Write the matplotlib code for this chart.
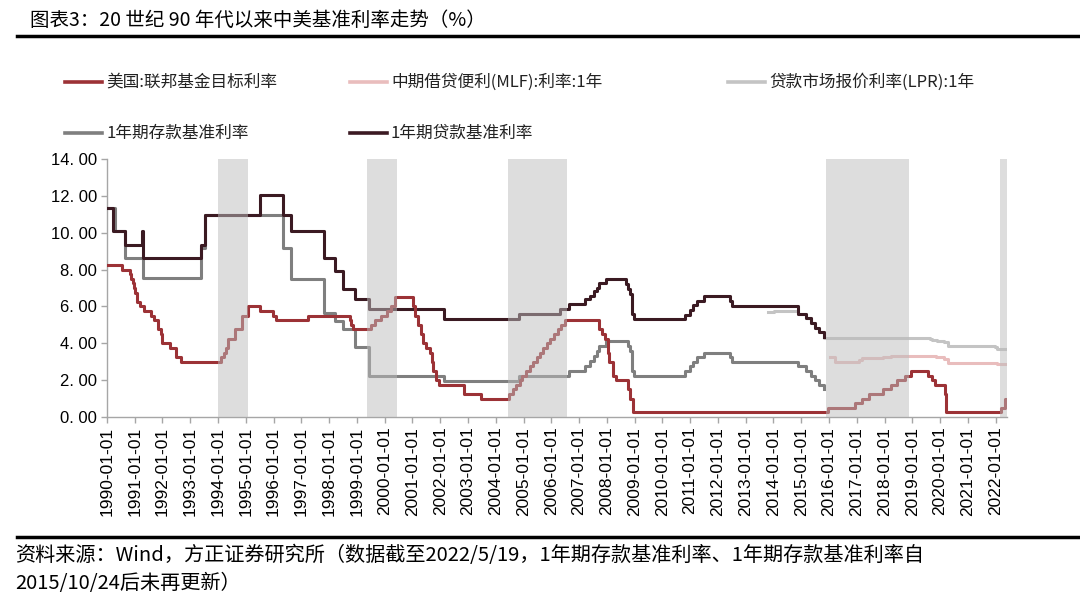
import pandas as pd
import matplotlib
matplotlib.use("Agg")
import matplotlib.pyplot as plt
import matplotlib.dates as mdates
from matplotlib.lines import Line2D

plt.rcParams['font.family'] = ['Noto Sans CJK SC', 'DejaVu Sans']

# ---- data (step changes: date the rate took effect, new value) ----
fed_dates = ['1990-01-01', '1990-07-13', '1990-10-29', '1990-11-13', '1990-12-07', '1990-12-18',
             '1991-01-08', '1991-02-01', '1991-03-08', '1991-04-30', '1991-08-06', '1991-09-13',
             '1991-10-31', '1991-11-06', '1991-12-06', '1991-12-20', '1992-04-09', '1992-07-02',
             '1992-09-04', '1994-02-04', '1994-03-22', '1994-04-18', '1994-05-17', '1994-08-16',
             '1994-11-15', '1995-02-01', '1995-07-06', '1995-12-19', '1996-01-31', '1997-03-25',
             '1998-09-29', '1998-10-15', '1998-11-17', '1999-06-30', '1999-08-24', '1999-11-16',
             '2000-02-02', '2000-03-21', '2000-05-16', '2001-01-03', '2001-01-31', '2001-03-20',
             '2001-04-18', '2001-05-15', '2001-06-27', '2001-08-21', '2001-09-17', '2001-10-02',
             '2001-11-06', '2001-12-11', '2002-11-06', '2003-06-25', '2004-06-30', '2004-08-10',
             '2004-09-21', '2004-11-10', '2004-12-14', '2005-02-02', '2005-03-22', '2005-05-03',
             '2005-06-30', '2005-08-09', '2005-09-20', '2005-11-01', '2005-12-13', '2006-01-31',
             '2006-03-28', '2006-05-10', '2006-06-29', '2007-09-18', '2007-10-31', '2007-12-11',
             '2008-01-22', '2008-01-30', '2008-03-18', '2008-04-30', '2008-10-08', '2008-10-29',
             '2008-12-16', '2015-12-16', '2016-12-14', '2017-03-15', '2017-06-14', '2017-12-13',
             '2018-03-21', '2018-06-13', '2018-09-26', '2018-12-19', '2019-07-31', '2019-09-18',
             '2019-10-30', '2020-03-03', '2020-03-15', '2022-03-16', '2022-05-04']
fed_vals = [8.25, 8.00, 7.75, 7.50, 7.25, 7.00,
            6.75, 6.25, 6.00, 5.75, 5.50, 5.25,
            5.00, 4.75, 4.50, 4.00, 3.75, 3.25,
            3.00, 3.25, 3.50, 3.75, 4.25, 4.75,
            5.50, 6.00, 5.75, 5.50, 5.25, 5.50,
            5.25, 5.00, 4.75, 5.00, 5.25, 5.50,
            5.75, 6.00, 6.50, 6.00, 5.50, 5.00,
            4.50, 4.00, 3.75, 3.50, 3.00, 2.50,
            2.00, 1.75, 1.25, 1.00, 1.25, 1.50,
            1.75, 2.00, 2.25, 2.50, 2.75, 3.00,
            3.25, 3.50, 3.75, 4.00, 4.25, 4.50,
            4.75, 5.00, 5.25, 4.75, 4.50, 4.25,
            3.50, 3.00, 2.25, 2.00, 1.50, 1.00,
            0.25, 0.50, 0.75, 1.00, 1.25, 1.50,
            1.75, 2.00, 2.25, 2.50, 2.25, 2.00,
            1.75, 1.25, 0.25, 0.50, 1.00]

mlf_dates = ['2016-01-20', '2016-03-15', '2017-01-24', '2017-03-16', '2017-12-14', '2018-03-22',
             '2019-11-05', '2020-02-17', '2020-04-15', '2022-01-17']
mlf_vals = [3.25, 3.00, 3.10, 3.20, 3.25, 3.30, 3.25, 3.15, 2.95, 2.85]

lpr_dates = ['2013-10-25', '2014-01-02', '2014-11-24', '2015-03-02', '2015-05-11', '2015-06-29',
             '2015-08-26', '2015-10-26', '2019-08-20', '2019-09-20', '2019-11-20', '2020-02-20',
             '2020-04-20', '2021-12-20', '2022-01-20']
lpr_vals = [5.71, 5.77, 5.60, 5.35, 5.10, 4.85, 4.60, 4.31, 4.25, 4.20, 4.15, 4.05, 3.85, 3.80, 3.70]

dep_dates = ['1990-01-01', '1990-04-15', '1990-08-21', '1991-04-21', '1993-05-15', '1993-07-11',
             '1996-05-01', '1996-08-23', '1997-10-23', '1998-03-25', '1998-07-01', '1998-12-07',
             '1999-06-10', '2002-02-21', '2004-10-29', '2006-08-19', '2007-03-18', '2007-05-19',
             '2007-07-21', '2007-08-22', '2007-09-15', '2007-12-21', '2008-10-09', '2008-10-30',
             '2008-11-27', '2008-12-23', '2010-10-20', '2010-12-26', '2011-02-09', '2011-04-06',
             '2011-07-07', '2012-06-08', '2012-07-06', '2014-11-22', '2015-03-01', '2015-05-11',
             '2015-06-28', '2015-08-26', '2015-10-24']
dep_vals = [11.34, 10.08, 8.64, 7.56, 9.18, 10.98,
            9.18, 7.47, 5.67, 5.22, 4.77, 3.78,
            2.25, 1.98, 2.25, 2.52, 2.79, 3.06,
            3.33, 3.60, 3.87, 4.14, 3.87, 3.60,
            2.52, 2.25, 2.50, 2.75, 3.00, 3.25,
            3.50, 3.25, 3.00, 2.75, 2.50, 2.25,
            2.00, 1.75, 1.50]

loan_dates = ['1990-01-01', '1990-03-21', '1990-08-21', '1991-04-01', '1991-04-21', '1993-05-15',
              '1993-07-11', '1995-07-01', '1996-05-01', '1996-08-23', '1997-10-23', '1998-03-25',
              '1998-07-01', '1998-12-07', '1999-06-10', '2002-02-21', '2004-10-29', '2006-04-28',
              '2006-08-19', '2007-03-18', '2007-05-19', '2007-07-21', '2007-08-22', '2007-09-15',
              '2007-12-21', '2008-09-16', '2008-10-09', '2008-10-30', '2008-11-27', '2008-12-23',
              '2010-10-20', '2010-12-26', '2011-02-09', '2011-04-06', '2011-07-07', '2012-06-08',
              '2012-07-06', '2014-11-22', '2015-03-01', '2015-05-11', '2015-06-28', '2015-08-26',
              '2015-10-24']
loan_vals = [11.34, 10.08, 9.36, 10.08, 8.64, 9.36,
             10.98, 12.06, 10.98, 10.08, 8.64, 7.92,
             6.93, 6.39, 5.85, 5.31, 5.58, 5.85,
             6.12, 6.39, 6.57, 6.84, 7.02, 7.29,
             7.47, 7.20, 6.93, 6.66, 5.58, 5.31,
             5.56, 5.81, 6.06, 6.31, 6.56, 6.31,
             6.00, 5.60, 5.35, 5.10, 4.85, 4.60,
             4.35]

data_end = '2022-05-19'
old_rate_end = '2015-11-01'

# Fed hiking cycles (shaded)
hike_starts = ['1994-01-01', '1999-05-20', '2004-06-15', '2015-11-25', '2022-03-01']
hike_ends = ['1995-02-01', '2000-06-15', '2006-08-01', '2018-11-25', '2022-05-31']

labels = ['美国:联邦基金目标利率', '中期借贷便利(MLF):利率:1年', '贷款市场报价利率(LPR):1年',
          '1年期存款基准利率', '1年期贷款基准利率']
colors = ['#9C3236', '#E9BDBD', '#C4C4C4', '#7F7F7F', '#3B1A22']

W, H = 1080, 606
fig = plt.figure(figsize=(W / 100, H / 100), dpi=100)
ax = fig.add_axes([107 / W, 1 - 417 / H, 900 / W, 258 / H])


def steps(dates, vals, end):
    x = pd.to_datetime(list(dates) + [end])
    y = list(vals) + [vals[-1]]
    return x, y


series = [(fed_dates, fed_vals, data_end),
          (mlf_dates, mlf_vals, data_end),
          (lpr_dates, lpr_vals, data_end),
          (dep_dates, dep_vals, old_rate_end),
          (loan_dates, loan_vals, old_rate_end)]
zorders = [5, 2, 1, 3, 4]

for (d, v, e), c, z in zip(series, colors, zorders):
    x, y = steps(d, v, e)
    ax.step(x, y, where='post', color=c, lw=2.2, zorder=z)

# shading drawn over the lines, semi transparent
for s, e in zip(hike_starts, hike_ends):
    ax.axvspan(pd.Timestamp(s), pd.Timestamp(e), color='#BCBCBC', alpha=0.5, lw=0, zorder=6)

ax.set_xlim(pd.Timestamp('1990-01-01'), pd.Timestamp('2022-05-31'))
ax.set_ylim(0, 14)
ax.set_yticks(range(0, 15, 2))
ax.set_yticklabels(['{:.2f}'.format(v).replace('.', '. ') for v in range(0, 15, 2)],
                   family='Liberation Sans', fontsize=12)
ax.xaxis.set_major_locator(mdates.YearLocator(1))
ax.xaxis.set_major_formatter(mdates.DateFormatter('%Y-%m-%d'))
for lab in ax.get_xticklabels():
    lab.set_rotation(90)
    lab.set_family('Liberation Sans')
    lab.set_fontsize(12.5)

for sp in ['top', 'right']:
    ax.spines[sp].set_visible(False)
for sp in ['left', 'bottom']:
    ax.spines[sp].set_color('#A6A6A6')
    ax.spines[sp].set_linewidth(1.0)
ax.tick_params(axis='both', color='#A6A6A6', length=4, width=1.0, pad=3)

# legend, placed by hand like the original
leg_pos = [(65, 82), (350, 82), (728, 82), (65, 133), (350, 133)]
for (px, py), lab, c in zip(leg_pos, labels, colors):
    fig.add_artist(Line2D([px / W, (px + 37) / W], [1 - py / H, 1 - py / H],
                          color=c, lw=2.6, transform=fig.transFigure))
    fig.text((px + 41) / W, 1 - py / H, lab, fontsize=12, va='center', ha='left', color='#222222')

# title and rules
fig.text(30 / W, 1 - 20 / H, '图表3：20 世纪 90 年代以来中美基准利率走势（%）',
         fontsize=14, va='center', ha='left')
fig.add_artist(Line2D([17 / W, 1], [1 - 36 / H, 1 - 36 / H], color='black', lw=2.5,
                      transform=fig.transFigure))
fig.add_artist(Line2D([17 / W, 1], [1 - 537 / H, 1 - 537 / H], color='black', lw=2.5,
                      transform=fig.transFigure))

fig.text(15 / W, 1 - 556 / H,
         '资料来源：Wind，方正证券研究所（数据截至2022/5/19，1年期存款基准利率、1年期存款基准利率自',
         fontsize=14.5, va='center', ha='left', style='italic')
fig.text(15 / W, 1 - 584 / H, '2015/10/24后未再更新）',
         fontsize=14.5, va='center', ha='left', style='italic')

fig.savefig('out.png', dpi=100)
